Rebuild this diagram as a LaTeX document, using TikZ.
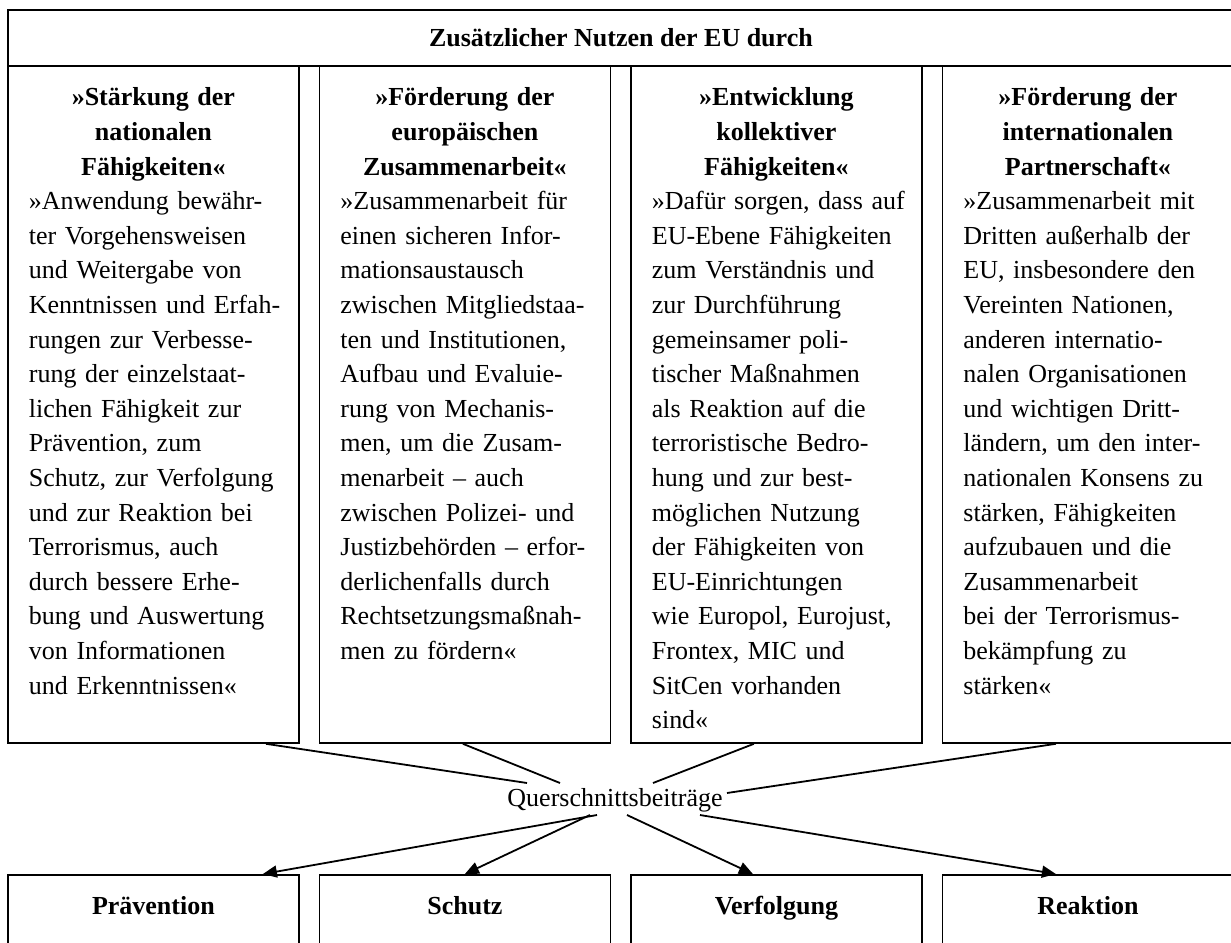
\documentclass[tikz,border=0pt]{standalone}
\usepackage{fontspec}
\setmainfont{Liberation Serif}
\usetikzlibrary{arrows.meta, positioning}

\begin{document}
\begin{tikzpicture}[
    x=0.5pt, y=0.5pt,
    every node/.style={font=\fontsize{13}{17.3}\selectfont},
    frame/.style={rectangle, draw, line width=0.9pt},
    titlebox/.style={frame, anchor=north west, minimum width=613pt, minimum height=28pt, font=\fontsize{13}{17.3}\selectfont\bfseries},
    colbox/.style={frame, anchor=north west, text width=140pt, inner xsep=2.75pt, inner ysep=0pt, text height=20pt, text depth=318.5pt, align=left},
    effbox/.style={frame, anchor=north west, text width=140pt, inner xsep=2.75pt, inner ysep=0pt, text height=20pt, text depth=40pt, align=center, font=\fontsize{13}{17.3}\selectfont\bfseries},
    link/.style={line width=0.9pt},
    arrow/.style={line width=0.9pt, -{Triangle[length=7pt, width=6pt]}}
]
\clip (0,0) rectangle (1231,-942);

\node[titlebox] (nutzen) at (7,-9) {Zusätzlicher Nutzen der EU durch};

\node[colbox] (nat) at (7,-65) {{\centering\bfseries »Stärkung der\\ nationalen\\ Fähigkeiten«\par}
{\raggedright\leftskip=7.75pt »Anwendung bewähr-\\ ter Vorgehensweisen\\ und Weitergabe von\\ Kenntnissen und Erfah-\\ rungen zur Verbesse-\\ rung der einzelstaat-\\ lichen Fähigkeit zur\\ Prävention, zum\\ Schutz, zur Verfolgung\\ und zur Reaktion bei\\ Terrorismus, auch\\ durch bessere Erhe-\\ bung und Auswertung\\ von Informationen\\ und Erkenntnissen«\par}};
\node[colbox] (eur) at (318.5,-65) {{\centering\bfseries »Förderung der\\ europäischen\\ Zusammenarbeit«\par}
{\raggedright\leftskip=7.75pt »Zusammenarbeit für\\ einen sicheren Infor-\\ mationsaustausch\\ zwischen Mitgliedstaa-\\ ten und Institutionen,\\ Aufbau und Evaluie-\\ rung von Mechanis-\\ men, um die Zusam-\\ menarbeit – auch\\ zwischen Polizei- und\\ Justizbehörden – erfor-\\ derlichenfalls durch\\ Rechtsetzungsmaßnah-\\ men zu fördern«\par}};
\node[colbox] (koll) at (630,-65) {{\centering\bfseries »Entwicklung\\ kollektiver\\ Fähigkeiten«\par}
{\raggedright\leftskip=7.75pt »Dafür sorgen, dass auf\\ EU-Ebene Fähigkeiten\\ zum Verständnis und\\ zur Durchführung\\ gemeinsamer poli-\\ tischer Maßnahmen\\ als Reaktion auf die\\ terroristische Bedro-\\ hung und zur best-\\ möglichen Nutzung\\ der Fähigkeiten von\\ EU-Einrichtungen\\ wie Europol, Eurojust,\\ Frontex, MIC und\\ SitCen vorhanden\\ sind«\par}};
\node[colbox] (intl) at (941.5,-65) {{\centering\bfseries »Förderung der\\ internationalen\\ Partnerschaft«\par}
{\raggedright\leftskip=7.75pt »Zusammenarbeit mit\\ Dritten außerhalb der\\ EU, insbesondere den\\ Vereinten Nationen,\\ anderen internatio-\\ nalen Organisationen\\ und wichtigen Dritt-\\ ländern, um den inter-\\ nationalen Konsens zu\\ stärken, Fähigkeiten\\ aufzubauen und die\\ Zusammenarbeit\\ bei der Terrorismus-\\ bekämpfung zu\\ stärken«\par}};

\node (quer) at (615,-800) {Querschnittsbeiträge};

\node[effbox] (praev) at (7,-874) {Prävention};
\node[effbox] (schutz) at (318.5,-874) {Schutz};
\node[effbox] (verf) at (630,-874) {Verfolgung};
\node[effbox] (reakt) at (941.5,-874) {Reaktion};

% Beitraege zusammenfuehren
\draw[link] ([xshift=56.25pt]nat.south) -- ([shift={(-44pt,8.5pt)}]quer.center);
\draw[link] ([xshift=-1pt]eur.south) -- ([shift={(-27.5pt,8.5pt)}]quer.center);
\draw[link] ([xshift=-11.25pt]koll.south) -- ([shift={(19pt,8.5pt)}]quer.center);
\draw[link] ([xshift=-16pt]intl.south) -- ([shift={(56pt,3.5pt)}]quer.center);

\draw[arrow] ([shift={(-9pt,-7.5pt)}]quer.center) -- ([xshift=54.75pt]praev.north);
\draw[arrow] ([shift={(-12.5pt,-7.5pt)}]quer.center) -- (schutz.north);
\draw[arrow] ([shift={(6pt,-7.5pt)}]quer.center) -- ([xshift=-11.75pt]verf.north);
\draw[arrow] ([shift={(42.5pt,-7.5pt)}]quer.center) -- ([xshift=-16pt]reakt.north);

\end{tikzpicture}
\end{document}
